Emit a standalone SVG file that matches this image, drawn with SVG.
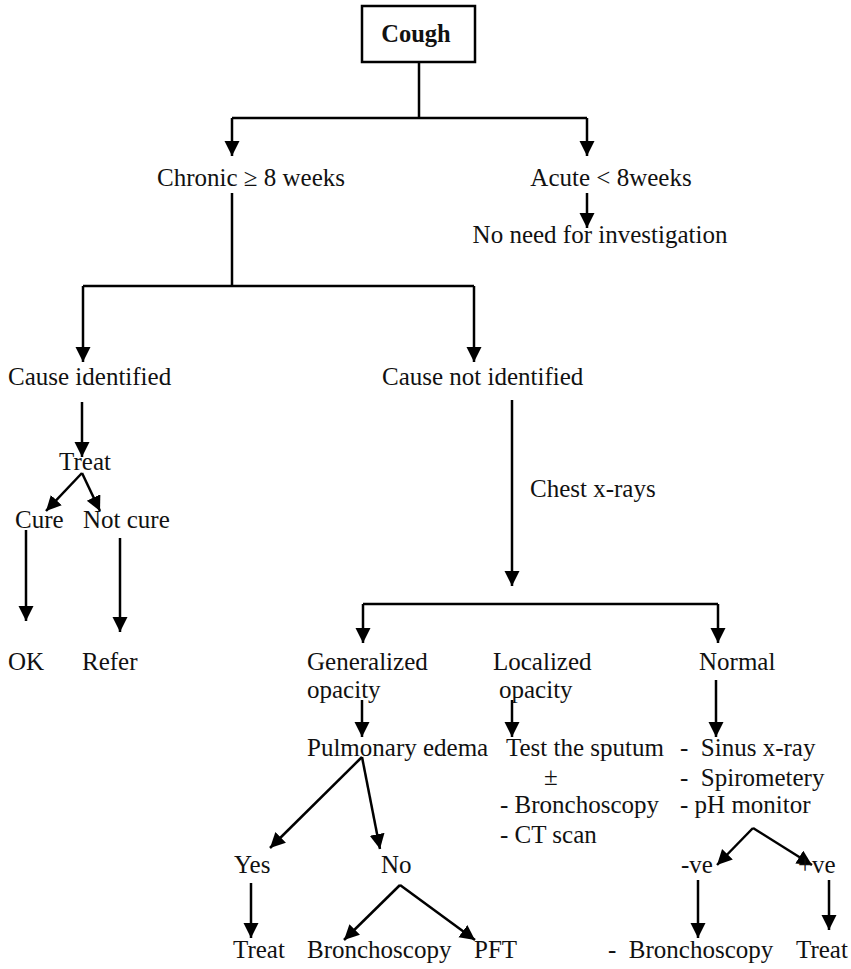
<svg xmlns="http://www.w3.org/2000/svg" width="851" height="969" viewBox="0 0 851 969">
  <defs>
    <marker id="arr" markerUnits="userSpaceOnUse" markerWidth="16" markerHeight="16" viewBox="0 0 16 16" refX="15" refY="7.5" orient="auto">
      <path d="M0,0 L15,7.5 L0,15 Z" fill="#000"/>
    </marker>
    <style>
      .c { stroke: #000; stroke-width: 2.5; fill: none; }
      .a { marker-end: url(#arr); }
    </style>
  </defs>
  <rect width="851" height="969" fill="#fff"/>

  <!-- connectors -->
  <g id="connectors">
    <polyline class="c" points="419,62 419,118"/>
    <polyline class="c" points="232,118 587,118"/>
    <line class="c a" x1="232" y1="118" x2="232" y2="156"/>
    <line class="c a" x1="587" y1="118" x2="587" y2="156"/>
    <line class="c a" x1="587" y1="193" x2="587" y2="228"/>
    <polyline class="c" points="232,193 232,286"/>
    <polyline class="c" points="83,286 474,286"/>
    <line class="c a" x1="83" y1="286" x2="83" y2="362"/>
    <line class="c a" x1="474" y1="286" x2="474" y2="362"/>
    <line class="c a" x1="82" y1="402" x2="82" y2="457"/>
    <line class="c a" x1="82" y1="473" x2="46" y2="511"/>
    <line class="c a" x1="82" y1="473" x2="100" y2="511"/>
    <line class="c a" x1="26" y1="530" x2="26" y2="621"/>
    <line class="c a" x1="120" y1="538" x2="120" y2="632"/>
    <line class="c a" x1="512" y1="400" x2="512" y2="586"/>
    <polyline class="c" points="363,604 718,604"/>
    <line class="c a" x1="363" y1="604" x2="363" y2="643"/>
    <line class="c a" x1="718" y1="604" x2="718" y2="643"/>
    <line class="c a" x1="362" y1="700" x2="362" y2="737"/>
    <line class="c a" x1="512" y1="700" x2="512" y2="737"/>
    <line class="c a" x1="716" y1="680" x2="716" y2="737"/>
    <line class="c a" x1="362" y1="757" x2="270" y2="848"/>
    <line class="c a" x1="362" y1="757" x2="380" y2="849"/>
    <line class="c a" x1="251" y1="883" x2="251" y2="938"/>
    <line class="c a" x1="400" y1="885" x2="344" y2="940"/>
    <line class="c a" x1="400" y1="885" x2="475" y2="940"/>
    <line class="c a" x1="753" y1="828" x2="717" y2="865"/>
    <line class="c a" x1="753" y1="828" x2="812" y2="865"/>
    <line class="c a" x1="698" y1="880" x2="698" y2="938"/>
    <line class="c a" x1="829" y1="880" x2="829" y2="930"/>
  </g>

  <g font-family="'Liberation Serif', 'Times New Roman', serif" font-size="25" fill="#111">
  <g id="cough">
    <rect x="362" y="6" width="113" height="56" fill="#fff" stroke="#000" stroke-width="2.5"/>
    <text font-weight="bold" font-size="24.5" x="416" y="42" text-anchor="middle">Cough</text>
  </g>
  <g id="chronic"><text x="251" y="186" text-anchor="middle">Chronic ≥ 8 weeks</text></g>
  <g id="acute"><text x="611" y="186" text-anchor="middle">Acute &lt; 8weeks</text></g>
  <g id="no-need"><text x="600" y="243" text-anchor="middle">No need for investigation</text></g>
  <g id="cause-identified"><text x="8" y="385">Cause identified</text></g>
  <g id="cause-not-identified"><text x="382" y="385">Cause not identified</text></g>
  <g id="treat-1"><text x="85" y="470" text-anchor="middle">Treat</text></g>
  <g id="cure"><text x="15" y="528">Cure</text></g>
  <g id="not-cure"><text x="83" y="528">Not cure</text></g>
  <g id="ok"><text x="8" y="670">OK</text></g>
  <g id="refer"><text x="82" y="670">Refer</text></g>
  <g id="chest"><text x="530" y="497">Chest x-rays</text></g>
  <g id="generalized"><text x="307" y="670">Generalized</text><text x="307" y="698">opacity</text></g>
  <g id="localized"><text x="493" y="670">Localized</text><text x="499" y="698">opacity</text></g>
  <g id="normal"><text x="699" y="670">Normal</text></g>
  <g id="pulmonary"><text x="307" y="756">Pulmonary edema</text></g>
  <g id="sputum">
    <text x="506" y="756">Test the sputum</text>
    <text x="544" y="785">±</text>
    <text x="500" y="813">- Bronchoscopy</text>
    <text x="500" y="843">- CT scan</text>
  </g>
  <g id="normal-tests">
    <text x="680" y="756" xml:space="preserve">-  Sinus x-ray</text>
    <text x="680" y="786" xml:space="preserve">-  Spirometery</text>
    <text x="680" y="813">- pH monitor</text>
  </g>
  <g id="yes"><text x="234" y="873">Yes</text></g>
  <g id="no"><text x="381" y="873">No</text></g>
  <g id="neg"><text x="681" y="873">-ve</text></g>
  <g id="pos"><text x="798" y="873">+ve</text></g>
  <g id="treat-2"><text x="233" y="958">Treat</text></g>
  <g id="bronch-1"><text x="307" y="958">Bronchoscopy</text></g>
  <g id="pft"><text x="474" y="958">PFT</text></g>
  <g id="bronch-2"><text x="608" y="958" xml:space="preserve">-  Bronchoscopy</text></g>
  <g id="treat-3"><text x="796" y="958">Treat</text></g>
  </g>
</svg>
